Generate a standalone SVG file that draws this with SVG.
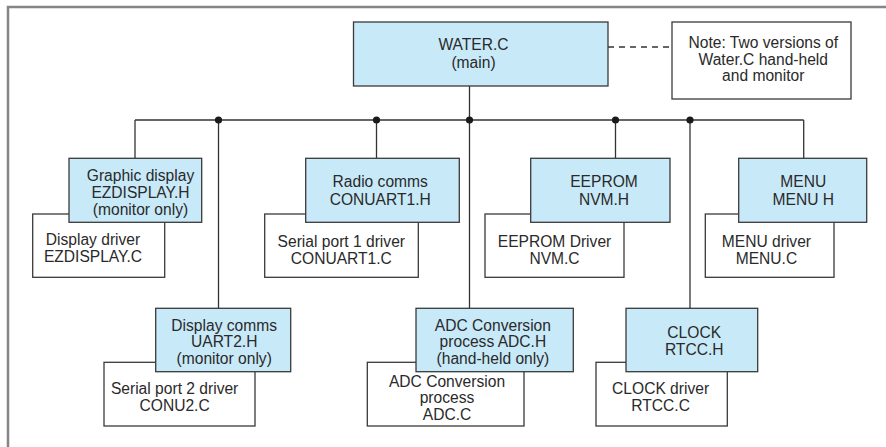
<svg xmlns="http://www.w3.org/2000/svg" width="886" height="447" viewBox="0 0 886 447">
<style>
.frame{fill:none;stroke:#858585;stroke-width:2.5}
.hdr{fill:#c8e9f8;stroke:#3a3a3a;stroke-width:1.3}
.src{fill:#ffffff;stroke:#3a3a3a;stroke-width:1.3}
.ln{fill:none;stroke:#333;stroke-width:1.3}
.dash{fill:none;stroke:#333;stroke-width:1.3;stroke-dasharray:6,5}
.dot{fill:#1a1a1a}
text{font-family:"Liberation Sans",Arial,sans-serif;font-size:15.6px;fill:#2a2a2a;text-anchor:middle}
</style>
<rect width="886" height="447" fill="#ffffff"/>
<path class="frame" d="M8,447 V7 H886"/>
<g id="connectors">
<line class="ln" x1="469.5" y1="86" x2="469.5" y2="120"/>
<line class="ln" x1="135" y1="120" x2="803.7" y2="120"/>
<line class="ln" x1="135" y1="120" x2="135" y2="158"/>
<line class="ln" x1="218.5" y1="120" x2="218.5" y2="308"/>
<line class="ln" x1="376.5" y1="120" x2="376.5" y2="158"/>
<line class="ln" x1="469.5" y1="120" x2="469.5" y2="308"/>
<line class="ln" x1="615.5" y1="120" x2="615.5" y2="158"/>
<line class="ln" x1="690" y1="120" x2="690" y2="308"/>
<line class="ln" x1="803.7" y1="120" x2="803.7" y2="158"/>
<line class="dash" x1="608" y1="47" x2="672" y2="47"/>
<circle class="dot" cx="218.5" cy="120" r="3.6"/>
<circle class="dot" cx="376.5" cy="120" r="3.6"/>
<circle class="dot" cx="469.5" cy="120" r="3.6"/>
<circle class="dot" cx="615.5" cy="120" r="3.6"/>
<circle class="dot" cx="690" cy="120" r="3.6"/>
</g>
<g id="water">
<rect class="hdr" x="353.5" y="22" width="254.5" height="64"/>
<text x="473.5" y="50">WATER.C</text>
<text x="473.5" y="67.5">(main)</text>
</g>
<g id="note">
<rect class="src" x="672" y="22" width="179" height="77"/>
<text x="763.3" y="48">Note: Two versions of</text>
<text x="763.3" y="64.7">Water.C hand-held</text>
<text x="763.3" y="81">and monitor</text>
</g>
<g id="ezdisplay-c">
<rect class="src" x="32.7" y="214" width="132" height="63.3"/>
<text x="93" y="245.3">Display driver</text>
<text x="93" y="262">EZDISPLAY.C</text>
</g>
<g id="ezdisplay-h">
<rect class="hdr" x="69" y="158.3" width="132.7" height="64"/>
<text x="140.5" y="180.5">Graphic display</text>
<text x="140.5" y="197.5">EZDISPLAY.H</text>
<text x="140.5" y="214.5">(monitor only)</text>
</g>
<g id="conuart1-c">
<rect class="src" x="264.7" y="214" width="153.6" height="63.3"/>
<text x="341.3" y="247.3">Serial port 1 driver</text>
<text x="341.3" y="264">CONUART1.C</text>
</g>
<g id="conuart1-h">
<rect class="hdr" x="305.7" y="158.3" width="153.6" height="64"/>
<text x="380.2" y="187.3">Radio comms</text>
<text x="380.2" y="204.7">CONUART1.H</text>
</g>
<g id="nvm-c">
<rect class="src" x="485" y="214" width="139" height="63.3"/>
<text x="554.5" y="247.3">EEPROM Driver</text>
<text x="554.5" y="264">NVM.C</text>
</g>
<g id="nvm-h">
<rect class="hdr" x="530.7" y="158.3" width="139.3" height="64"/>
<text x="604" y="187.3">EEPROM</text>
<text x="604" y="204.7">NVM.H</text>
</g>
<g id="menu-c">
<rect class="src" x="705.3" y="214" width="128.7" height="63.3"/>
<text x="766.4" y="247.3">MENU driver</text>
<text x="766.4" y="264">MENU.C</text>
</g>
<g id="menu-h">
<rect class="hdr" x="738.7" y="158.3" width="128" height="64"/>
<text x="803.3" y="187.3">MENU</text>
<text x="803.3" y="204.7">MENU H</text>
</g>
<g id="conu2-c">
<rect class="src" x="104" y="362.3" width="151" height="63.7"/>
<text x="174.6" y="394">Serial port 2 driver</text>
<text x="174.6" y="410.7">CONU2.C</text>
</g>
<g id="uart2-h">
<rect class="hdr" x="155.7" y="308.3" width="135" height="63.4"/>
<text x="224.2" y="330.5">Display comms</text>
<text x="224.2" y="347.3">UART2.H</text>
<text x="224.2" y="364.3">(monitor only)</text>
</g>
<g id="adc-c">
<rect class="src" x="367.3" y="362.3" width="156.7" height="63.7"/>
<text x="447" y="386.7">ADC Conversion</text>
<text x="447" y="403.3">process</text>
<text x="447" y="420">ADC.C</text>
</g>
<g id="adc-h">
<rect class="hdr" x="416" y="308.3" width="157.3" height="63.4"/>
<text x="492.9" y="330.5">ADC Conversion</text>
<text x="492.9" y="347.3">process ADC.H</text>
<text x="492.9" y="364.3">(hand-held only)</text>
</g>
<g id="rtcc-c">
<rect class="src" x="596" y="362.3" width="131.3" height="63.7"/>
<text x="660.6" y="393.8">CLOCK driver</text>
<text x="660.6" y="410.5">RTCC.C</text>
</g>
<g id="rtcc-h">
<rect class="hdr" x="626" y="308.3" width="131.7" height="63.4"/>
<text x="694.2" y="337.6">CLOCK</text>
<text x="694.2" y="355">RTCC.H</text>
</g>
</svg>
